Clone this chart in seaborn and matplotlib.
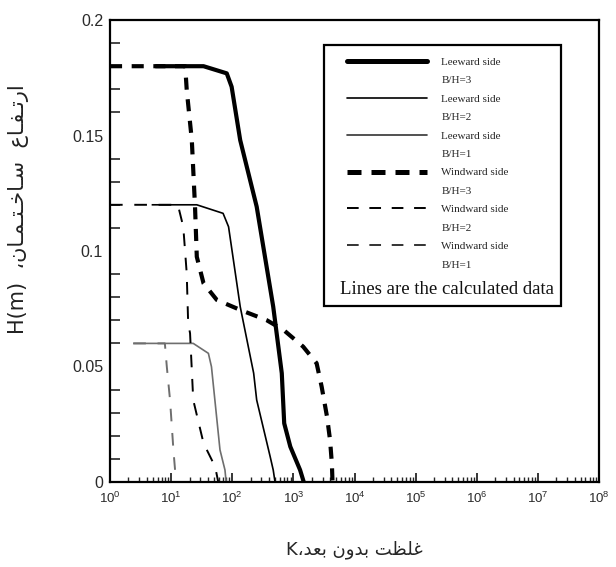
import numpy as np
import pandas as pd
import matplotlib
matplotlib.use("Agg")
import matplotlib.pyplot as plt
from matplotlib.lines import Line2D
from matplotlib.patches import Rectangle
from matplotlib.ticker import MultipleLocator, LogLocator, NullFormatter
import seaborn as sns

# ---------------- data (K, H) ----------------
lee3_K = [5.5, 33.9, 81.3, 97.7, 134.9, 251, 468, 646, 708, 891, 1288, 1479]
lee3_H = [0.18, 0.18, 0.1769, 0.1711, 0.148, 0.1192, 0.0759, 0.0471, 0.0254, 0.0153, 0.0052, 0.0]

lee2_K = [4.8, 26.3, 70.8, 87, 135, 224, 251, 417, 468, 501]
lee2_H = [0.12, 0.12, 0.1163, 0.1105, 0.0759, 0.0471, 0.0355, 0.011, 0.0052, 0.0]

lee1_K = [2.4, 23, 40.7, 45.7, 63, 76, 79.4]
lee1_H = [0.06, 0.06, 0.0557, 0.0499, 0.0139, 0.0052, 0.0]

win3_K = [1, 17, 18, 21.8, 24.6, 26.3, 33.9, 56, 135, 363, 692, 1445, 2400, 2900, 3550, 3980, 4260, 4370]
win3_H = [0.18, 0.18, 0.1697, 0.148, 0.1192, 0.0975, 0.086, 0.0788, 0.0745, 0.0701, 0.0658,
          0.0586, 0.0514, 0.0413, 0.0283, 0.0182, 0.0081, 0.0]

win2_K = [1, 12.9, 15.8, 18, 19, 20.4, 23, 33.9, 52.5, 59]
win2_H = [0.12, 0.12, 0.1105, 0.0903, 0.0687, 0.0644, 0.0355, 0.0168, 0.0066, 0.0]

win1_K = [2.4, 7.9, 8.5, 9.6, 10.9, 11.6, 11.7]
win1_H = [0.06, 0.06, 0.0499, 0.0355, 0.0139, 0.0052, 0.0]

legend_labels = ["Leeward side", "B/H=3", "Leeward side", "B/H=2", "Leeward side", "B/H=1",
                 "Windward side", "B/H=3", "Windward side", "B/H=2", "Windward side", "B/H=1"]
note_text = "Lines are the calculated data"
xlabel_text = "غلظت بدون بعد،"          # followed by K
ylabel_text = "ارتـفـاع  سـاخـتـمـان،"   # followed by H(m) (kashida-stretched like the original)

# ---------------- simple Arabic shaping (presentation forms, visual order) ----------------
FORMS = {  # isolated, final, initial, medial
    'ا': ('\uFE8D', '\uFE8E', None, None),
    'ب': ('\uFE8F', '\uFE90', '\uFE91', '\uFE92'),
    'ت': ('\uFE95', '\uFE96', '\uFE97', '\uFE98'),
    'خ': ('\uFEA5', '\uFEA6', '\uFEA7', '\uFEA8'),
    'د': ('\uFEA9', '\uFEAA', None, None),
    'ر': ('\uFEAD', '\uFEAE', None, None),
    'س': ('\uFEB1', '\uFEB2', '\uFEB3', '\uFEB4'),
    'ظ': ('\uFEC5', '\uFEC6', '\uFEC7', '\uFEC8'),
    'ع': ('\uFEC9', '\uFECA', '\uFECB', '\uFECC'),
    'غ': ('\uFECD', '\uFECE', '\uFECF', '\uFED0'),
    'ف': ('\uFED1', '\uFED2', '\uFED3', '\uFED4'),
    'ل': ('\uFEDD', '\uFEDE', '\uFEDF', '\uFEE0'),
    'م': ('\uFEE1', '\uFEE2', '\uFEE3', '\uFEE4'),
    'ن': ('\uFEE5', '\uFEE6', '\uFEE7', '\uFEE8'),
    'و': ('\uFEED', '\uFEEE', None, None),
    'ـ': ('\u0640', '\u0640', '\u0640', '\u0640'),
}


def shape_rtl(text):
    out = []
    for i, c in enumerate(text):
        if c not in FORMS:
            out.append(c)
            continue
        f = FORMS[c]
        prev = text[i - 1] if i > 0 else None
        nxt = text[i + 1] if i + 1 < len(text) else None
        jp = prev in FORMS and FORMS[prev][2] is not None
        jn = nxt in FORMS and f[2] is not None
        if jp and jn:
            out.append(f[3])
        elif jp:
            out.append(f[1])
        elif jn:
            out.append(f[2])
        else:
            out.append(f[0])
    return ''.join(reversed(out))


# ---------------- figure ----------------
sns.set_style("white")
plt.rcParams['font.family'] = ['Liberation Sans', 'DejaVu Sans']

fig = plt.figure(figsize=(6.16, 5.67), dpi=100)
ax = fig.add_axes([110 / 616, 85 / 567, 489 / 616, 462 / 567])

GRAY = '#6e6e6e'
series = [
    (lee3_K, lee3_H, dict(color='black', linewidth=3.0, linestyle='-')),
    (lee2_K, lee2_H, dict(color='black', linewidth=1.2, linestyle='-')),
    (lee1_K, lee1_H, dict(color=GRAY, linewidth=1.2, linestyle='-')),
    (win3_K, win3_H, dict(color='black', linewidth=3.0, linestyle=(0, (2.9, 2.3)))),
    (win2_K, win2_H, dict(color='black', linewidth=1.4, linestyle=(0, (6.5, 6.0)))),
    (win1_K, win1_H, dict(color=GRAY, linewidth=1.4, linestyle=(0, (6.5, 6.0)))),
]
for K, H, kw in series:
    df = pd.DataFrame({'K': K, 'H': H})
    sns.lineplot(data=df, x='K', y='H', sort=False, estimator=None, ax=ax,
                 solid_capstyle='butt', dash_capstyle='butt', **kw)

ax.set_xscale('log')
ax.set_xlim(1, 1e8)
ax.set_ylim(0, 0.2)
ax.yaxis.set_major_locator(MultipleLocator(0.05))
ax.yaxis.set_minor_locator(MultipleLocator(0.01))
ax.set_yticks([0, 0.05, 0.1, 0.15, 0.2])
ax.set_yticklabels(['0', '0.05', '0.1', '0.15', '0.2'])
ax.xaxis.set_major_locator(LogLocator(base=10, numticks=20))
ax.xaxis.set_minor_locator(LogLocator(base=10, subs=np.arange(2, 10), numticks=100))
ax.xaxis.set_minor_formatter(NullFormatter())

for s in ax.spines.values():
    s.set_linewidth(1.6)
    s.set_color('black')
ax.tick_params(axis='y', which='major', direction='in', length=7.5, width=1.4,
               labelsize=11.5, pad=5, colors='black', labelcolor='#2a2a2a')
ax.tick_params(axis='y', which='minor', direction='in', length=7, width=1.2, left=True)
ax.tick_params(axis='x', which='major', direction='in', length=6.5, width=1.3,
               labelsize=9.5, pad=6, labelcolor='#2a2a2a', bottom=True)
ax.tick_params(axis='x', which='minor', direction='in', length=3.5, width=1.0, bottom=True)
ax.tick_params(top=False, right=False, which='both')
ax.set_xlabel('')
ax.set_ylabel('')

# axis labels (Arabic shaped, visual order)
ax.text(0.5, -0.147, 'K' + shape_rtl(xlabel_text), transform=ax.transAxes,
        ha='center', va='center', fontsize=13, family=['DejaVu Sans'])
ax.text(-0.188, 0.59, 'H(m)  ' + shape_rtl(ylabel_text), transform=ax.transAxes,
        ha='center', va='center', rotation=90, fontsize=15, family=['DejaVu Sans'],
        color='#222222')

# legend
handles = [
    Line2D([], [], color='black', linewidth=3.6),
    Line2D([], [], linestyle='none'),
    Line2D([], [], color='black', linewidth=1.2),
    Line2D([], [], linestyle='none'),
    Line2D([], [], color='#333333', linewidth=1.2),
    Line2D([], [], linestyle='none'),
    Line2D([], [], color='black', linewidth=3.6, linestyle=(0, (2.8, 2.0))),
    Line2D([], [], linestyle='none'),
    Line2D([], [], color='black', linewidth=1.4, linestyle=(0, (6.0, 5.5))),
    Line2D([], [], linestyle='none'),
    Line2D([], [], color='#333333', linewidth=1.4, linestyle=(0, (6.0, 5.5))),
    Line2D([], [], linestyle='none'),
]
leg = ax.legend(handles, legend_labels, loc='upper left',
                bbox_to_anchor=((347 - 110) / 489, (482 - 57) / 462),
                frameon=False, borderpad=0, borderaxespad=0,
                prop={'family': 'Liberation Serif', 'size': 8},
                handlelength=7.2, handletextpad=1.3, labelspacing=0.78)

ax.add_patch(Rectangle(((323.5 - 110) / 489, (482 - 306) / 462),
                       (561 - 323.5) / 489, (306 - 45) / 462,
                       transform=ax.transAxes, fill=False, edgecolor='black',
                       linewidth=1.6, zorder=5))
ax.text((446.5 - 110) / 489, (482 - 289) / 462, note_text, transform=ax.transAxes,
        ha='center', va='center', fontsize=13.5, family=['Liberation Serif'], color='#111111')

fig.savefig('out.png', dpi=100)
